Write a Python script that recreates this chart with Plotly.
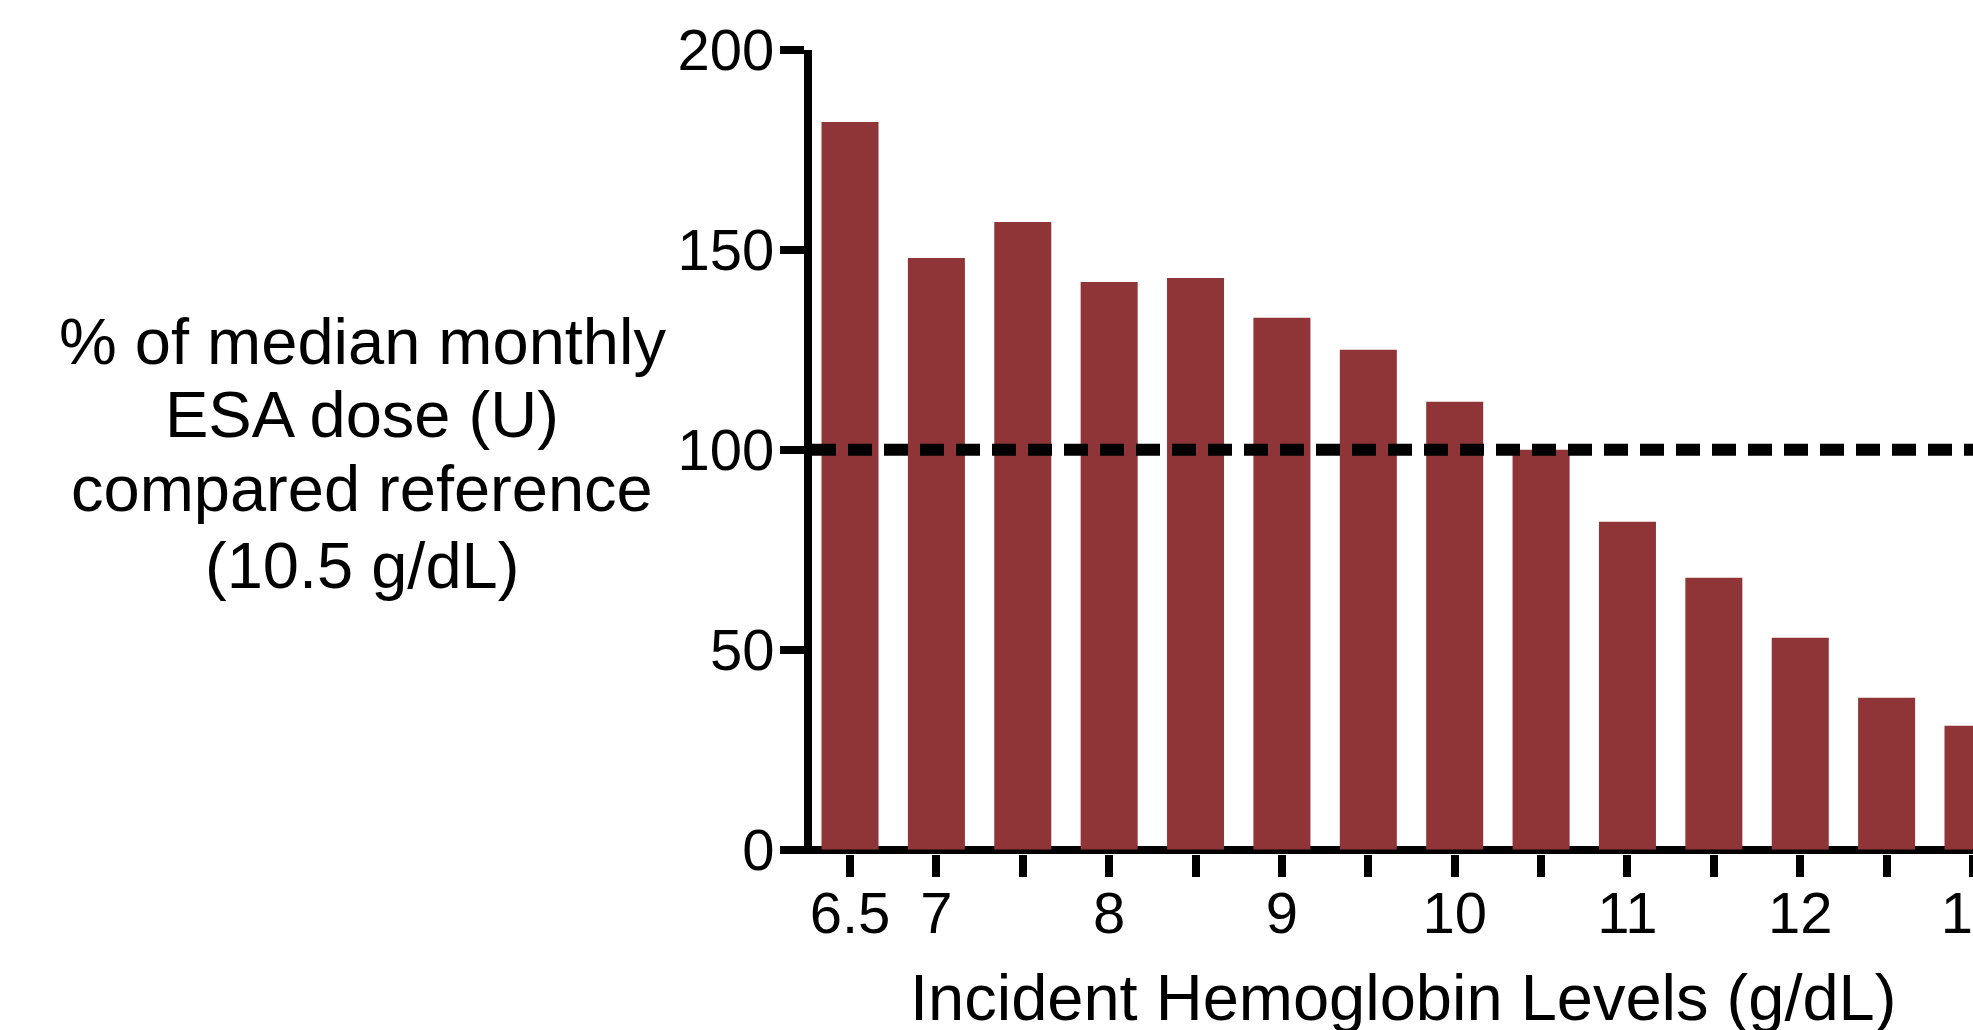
import plotly.graph_objects as go

# ---- data ----
hb_levels = ["6.5", "7", "7.5", "8", "8.5", "9", "9.5", "10", "10.5", "11", "11.5", "12", "12.5", "13"]
pct_dose = [182, 148, 157, 142, 143, 133, 125, 112, 100, 82, 68, 53, 38, 31]
x_tick_text = ["6.5", "7", "", "8", "", "9", "", "10", "", "11", "", "12", "", "13"]
y_tick_vals = [0, 50, 100, 150, 200]
reference_level = 100
y_title_lines = ["% of median monthly", "ESA dose (U)", "compared reference", "(10.5 g/dL)"]
x_title = "Incident Hemoglobin Levels (g/dL)"

BAR_COLOR = "#8F3537"
FONT = "Liberation Sans, Arial, sans-serif"
W, H = 1973, 1030
L, R, T, B = 812, 0, 50, 176

fig = go.Figure()
fig.add_trace(go.Bar(
    x=hb_levels, y=pct_dose,
    marker=dict(color=BAR_COLOR, line=dict(width=0)),
    width=0.66,
))

fig.add_shape(type="line", xref="paper", yref="y",
              x0=0, x1=1, y0=reference_level, y1=reference_level,
              line=dict(color="black", width=12, dash="24px,12px"), layer="above")

tick_font = dict(family=FONT, size=58, color="black")

fig.update_layout(
    template="none",
    width=W, height=H,
    margin=dict(l=L, r=R, t=T, b=B, pad=0),
    paper_bgcolor="white", plot_bgcolor="white",
    showlegend=False,
    xaxis=dict(type="category", categoryorder="array", categoryarray=hb_levels,
               range=[-0.44, 13.0], tickmode="array", tickvals=hb_levels,
               ticktext=x_tick_text, showline=False,
               ticks="outside", ticklen=22, tickwidth=8, tickcolor="black",
               showgrid=False, zeroline=False, automargin=False,
               ticklabeloverflow="allow", ticklabelstandoff=-14,
               tickfont=tick_font),
    yaxis=dict(range=[-1.1, 200], tickmode="array", tickvals=y_tick_vals,
               showline=True, linewidth=8, linecolor="black",
               ticks="outside", ticklen=24, tickwidth=8, tickcolor="black",
               showgrid=False, zeroline=True, zerolinewidth=8, zerolinecolor="black",
               automargin=False, ticklabelstandoff=-6, layer="above traces",
               tickfont=tick_font),
)

def px_x(px):
    return (px - L) / (W - L - R)

def px_y(px):
    return (H - B - px) / (H - T - B)

# y-axis title as separate centered lines
baselines_px = [361, 434, 509, 585]
for line, b in zip(y_title_lines, baselines_px):
    fig.add_annotation(text=line, xref="paper", yref="paper",
                       x=px_x(362), y=px_y(b - 20),
                       xanchor="center", yanchor="middle", showarrow=False,
                       font=dict(family=FONT, size=65, color="black"))

fig.add_annotation(text=x_title, xref="paper", yref="paper",
                   x=px_x(1403), y=px_y(1017 - 20),
                   xanchor="center", yanchor="middle", showarrow=False,
                   font=dict(family=FONT, size=65, color="black"))

fig.write_html("out.html", config={"displayModeBar": False},
               post_script="document.body.style.margin='0';document.body.style.overflow='hidden';")
